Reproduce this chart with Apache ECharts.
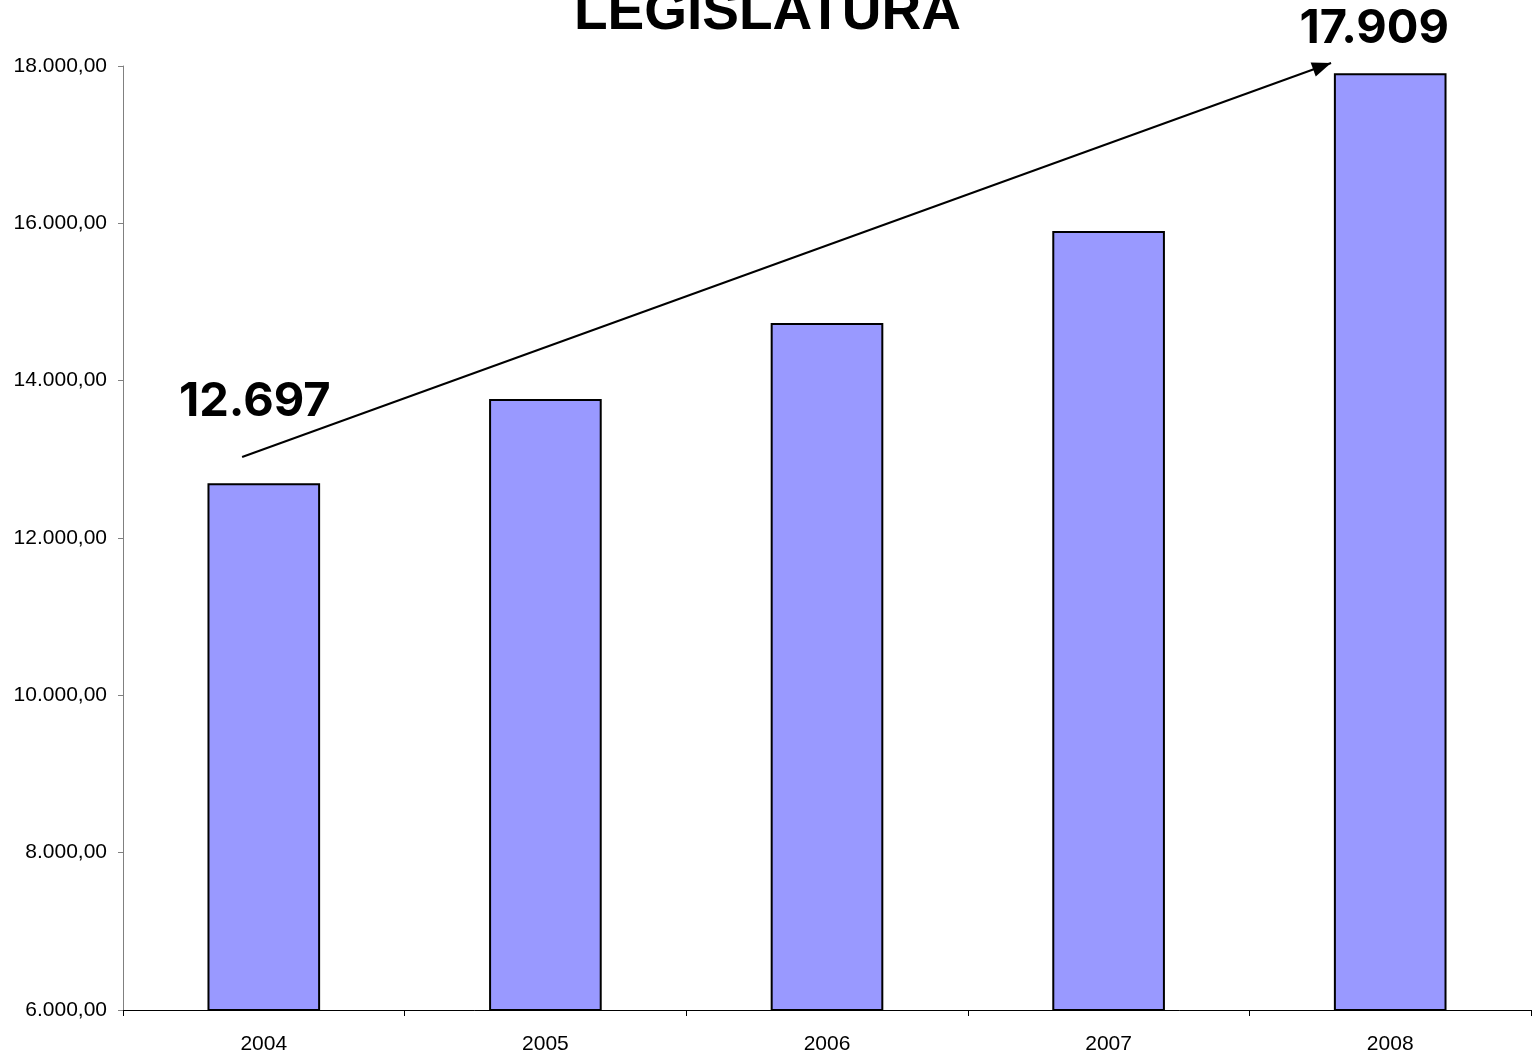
<!DOCTYPE html>
<html>
<head>
<meta charset="utf-8">
<script src="https://cdn.jsdelivr.net/npm/echarts@6/dist/echarts.min.js"></script>
<style>
html,body{margin:0;padding:0;background:#fff;}
#chart{width:1535px;height:1055px;}
</style>
</head>
<body>
<div id="chart"></div>
<script>
// ---- data ----
const titleText = 'LEGISLATURA';
const categories = ['2004', '2005', '2006', '2007', '2008'];
const values = [12697, 13767, 14733, 15902, 17909];
const yMin = 6000;
const yMax = 18000;
const yInterval = 2000;
// annotation arrow in data space: [category position, value]
const arrowStart = [-0.077, 13030];
const arrowEnd = [3.79, 18038];
// which bars carry the big value label
const labelledBars = [0, 4];

function fmtThousands(n) {
  return String(Math.round(n)).replace(/\B(?=(\d{3})+(?!\d))/g, '.');
}
function fmtAxis(v) {
  return fmtThousands(v) + ',00';
}

const labelOffsets = { 0: { distance: 58, offset: [-9, 0] }, 4: { distance: 21, offset: [-16, 0] } };

const barData = values.map((v, i) => {
  const item = { value: v };
  if (labelledBars.indexOf(i) >= 0) {
    item.label = {
      show: true,
      position: 'top',
      distance: labelOffsets[i].distance,
      offset: labelOffsets[i].offset,
      formatter: fmtThousands(v),
      fontFamily: 'Inter',
      fontWeight: 'bold',
      fontSize: 47,
      lineHeight: 47,
      color: '#000'
    };
  }
  return item;
});

const chart = echarts.init(document.getElementById('chart'), null, { renderer: 'canvas' });

// arrow direction computed after layout from the axes
function buildArrowData() {
  const p0 = chart.convertToPixel({ xAxisIndex: 1, yAxisIndex: 0 }, arrowStart);
  const p1 = chart.convertToPixel({ xAxisIndex: 1, yAxisIndex: 0 }, arrowEnd);
  const dx = p1[0] - p0[0], dy = p1[1] - p0[1];
  const len = Math.sqrt(dx * dx + dy * dy);
  const ux = dx / len, uy = dy / len;
  const headLen = 19;
  const angDeg = Math.atan2(-dy, dx) * 180 / Math.PI; // ccw from +x
  return [
    { value: arrowStart, symbol: 'none' },
    {
      value: arrowEnd,
      symbol: 'triangle',
      symbolSize: [15, headLen],
      symbolRotate: angDeg - 90,
      symbolOffset: [-ux * headLen / 2, -uy * headLen / 2],
      itemStyle: { color: '#000', borderWidth: 0 }
    }
  ];
}

chart.setOption({
  backgroundColor: '#fff',
  animation: false,
  title: {
    text: titleText,
    left: 'center',
    top: -19,
    textStyle: {
      fontFamily: 'Liberation Sans',
      fontWeight: 'bold',
      fontSize: 55,
      color: '#000'
    }
  },
  grid: { left: 123, right: 4, top: 66, bottom: 45, containLabel: false },
  xAxis: [
    {
      type: 'category',
      data: categories,
      boundaryGap: true,
      axisLine: { show: true, lineStyle: { color: '#000', width: 1 } },
      axisTick: { show: true, length: 6, lineStyle: { color: '#000' }, alignWithLabel: false },
      axisLabel: { fontFamily: 'Liberation Sans', fontSize: 21, color: '#000', margin: 24 },
      splitLine: { show: false }
    },
    {
      type: 'value',
      min: -0.5,
      max: 4.5,
      show: false
    }
  ],
  yAxis: {
    type: 'value',
    min: yMin,
    max: yMax,
    interval: yInterval,
    axisLine: { show: true, onZero: false, lineStyle: { color: '#808080', width: 1 } },
    axisTick: { show: true, length: 5, lineStyle: { color: '#808080' } },
    axisLabel: { fontFamily: 'Liberation Sans', fontSize: 21, color: '#000', margin: 16, formatter: fmtAxis },
    splitLine: { show: false }
  },
  series: [
    {
      type: 'bar',
      data: barData,
      barWidth: '40%',
      itemStyle: { color: '#9999FF', borderColor: '#000', borderWidth: 2 },
      label: { show: false }
    },
    {
      type: 'line',
      xAxisIndex: 1,
      data: [arrowStart, arrowEnd],
      symbol: 'none',
      clip: false,
      silent: true,
      lineStyle: { color: '#000', width: 2 },
      itemStyle: { color: '#000' },
      z: 5
    }
  ]
});

chart.setOption({
  series: [{}, { data: buildArrowData(), showSymbol: true }]
});
</script>
</body>
</html>
